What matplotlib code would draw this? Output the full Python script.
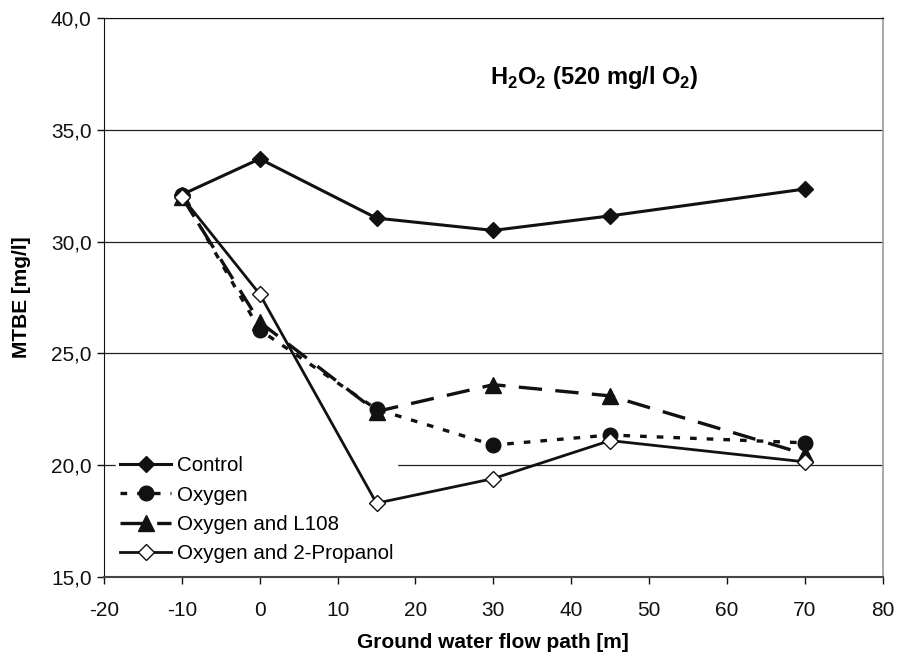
import matplotlib
matplotlib.use("Agg")
import matplotlib.pyplot as plt

plt.rcParams['font.family'] = ['Liberation Sans', 'DejaVu Sans']
plt.rcParams['axes.unicode_minus'] = False

x = [-10, 0, 15, 30, 45, 70]
control = [32.1, 33.7, 31.05, 30.5, 31.15, 32.35]
oxygen = [32.1, 26.05, 22.5, 20.9, 21.35, 21.0]
oxygen_l108 = [32.0, 26.4, 22.4, 23.6, 23.1, 20.5]
oxygen_propanol = [32.0, 27.65, 18.3, 19.4, 21.1, 20.15]

y_ticks = [15, 20, 25, 30, 35, 40]
x_ticks = [-20, -10, 0, 10, 20, 30, 40, 50, 60, 70, 80]

fig = plt.figure(figsize=(8.99, 6.57), dpi=100)
ax = fig.add_axes([0.1157, 0.1218, 0.866, 0.8508])

for yv in [20, 25, 30, 35, 40]:
    ax.axhline(yv, color='#222222', lw=0.9, zorder=0)

ax.plot(x, control, color='#111111', lw=2.2, marker='D', ms=8.5,
        mfc='#111111', mec='#111111', label='Control', zorder=3)
ax.plot(x, oxygen, color='#111111', lw=2.4, ls=(0, (2, 3)), marker='o', ms=10.5,
        mfc='#111111', mec='#111111', label='Oxygen', zorder=3)
ax.plot(x, oxygen_l108, color='#111111', lw=2.4, ls=(0, (7, 4)), marker='^', ms=11,
        mfc='#111111', mec='#111111', label='Oxygen and L108', zorder=3)
ax.plot(x, oxygen_propanol, color='#111111', lw=2, marker='D', ms=8,
        mfc='white', mec='#111111', mew=1, label='Oxygen and 2-Propanol', zorder=4)

ax.set_xlim(-20, 80)
ax.set_ylim(15, 40)
ax.set_xticks(x_ticks)
ax.set_yticks(y_ticks)
ax.set_yticklabels([f"{v:.1f}".replace('.', ',') for v in y_ticks])
ax.tick_params(axis='both', direction='out', length=5, width=1, labelsize=15, colors='#111111')
ax.tick_params(axis='x', pad=12)
ax.tick_params(axis='y', pad=4)

ax.spines['left'].set_color('#111111')
ax.spines['bottom'].set_color('#444444')
ax.spines['bottom'].set_linewidth(1.5)
ax.spines['right'].set_color('#999999')
ax.spines['right'].set_linewidth(1.2)
ax.spines['top'].set_color('#111111')

ax.set_xlabel('Ground water flow path [m]', fontsize=15, fontweight='bold', labelpad=10)
ax.set_ylabel('MTBE [mg/l]', fontsize=15, fontweight='bold', labelpad=14)

ax.text(0.63, 0.893, r'H$_\mathregular{2}$O$_\mathregular{2}$ (520 mg/l O$_\mathregular{2}$)',
        transform=ax.transAxes, ha='center', va='center', fontsize=17, fontweight='bold')

leg = ax.legend(loc='lower left', bbox_to_anchor=(0.01, 0.01), frameon=True, fontsize=14.8,
                handlelength=2.5, labelspacing=0.5, borderpad=0.2, handletextpad=0.25,
                borderaxespad=0.2)
leg.get_frame().set_edgecolor('white')
leg.get_frame().set_facecolor('white')
leg.get_frame().set_alpha(1)
leg.get_frame().set_boxstyle('square', pad=0)
leg.set_zorder(1)

fig.savefig('out.png', dpi=100)
